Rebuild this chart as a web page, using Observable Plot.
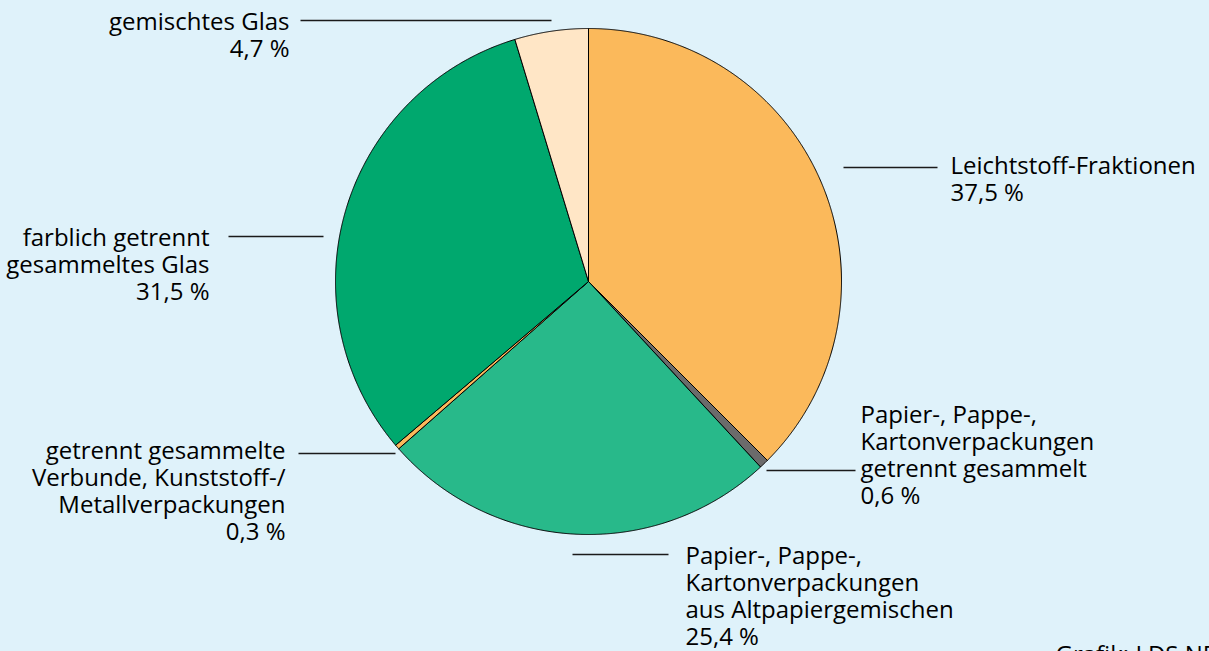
<!DOCTYPE html>
<html><head><meta charset="utf-8">
<script src="https://cdn.jsdelivr.net/npm/d3@7"></script>
<script src="https://cdn.jsdelivr.net/npm/@observablehq/plot@0.6"></script>
<style>
html,body{margin:0;padding:0;background:#dff2fa;overflow:hidden;width:1209px;height:651px}
#chart svg{display:block}
</style>
</head><body><div id="chart"></div>
<script>
// ---- data ----
const categories = [
  "Leichtstoff-Fraktionen",
  "Papier-, Pappe-, Kartonverpackungen getrennt gesammelt",
  "Papier-, Pappe-, Kartonverpackungen aus Altpapiergemischen",
  "getrennt gesammelte Verbunde, Kunststoff-/Metallverpackungen",
  "farblich getrennt gesammeltes Glas",
  "gemischtes Glas"
];
const values = [37.5, 0.6, 25.4, 0.3, 31.5, 4.7];
const labelLines = [
  ["Leichtstoff-Fraktionen", "37,5 %"],
  ["Papier-, Pappe-,", "Kartonverpackungen", "getrennt gesammelt", "0,6 %"],
  ["Papier-, Pappe-,", "Kartonverpackungen", "aus Altpapiergemischen", "25,4 %"],
  ["getrennt gesammelte", "Verbunde, Kunststoff-/", "Metallverpackungen", "0,3 %"],
  ["farblich getrennt", "gesammeltes Glas", "31,5 %"],
  ["gemischtes Glas", "4,7 %"]
];
const colors = ["#fbb95b", "#6b6b6b", "#28b98a", "#fbb95b", "#00a86e", "#ffe6c6"];
const source = "Grafik: LDS NRW";

// ---- layout (pixels) ----
const W = 1209, H = 651, CX = 588, CY = 281, R = 253;
const FS = 24, LH = 27;
const ux = px => (px - CX) / R, uy = py => (CY - py) / R;
// label anchor: text x, first baseline, anchor, leader line x1,x2,y
const layout = [
  {tx: 950, by: 174, anchor: "start", lx1: 843, lx2: 937, ly: 167},
  {tx: 860, by: 423, anchor: "start", lx1: 766, lx2: 855, ly: 470},
  {tx: 685, by: 564, anchor: "start", lx1: 572, lx2: 668, ly: 554},
  {tx: 285, by: 459, anchor: "end",   lx1: 298, lx2: 395, ly: 453},
  {tx: 209, by: 246, anchor: "end",   lx1: 228, lx2: 323, ly: 236},
  {tx: 289, by: 30,  anchor: "end",   lx1: 300, lx2: 551, ly: 20}
];

// ---- slices from values ----
let cum = 0;
const total = d3.sum(values);
const slices = values.map((v, i) => {
  const a0 = cum / total * 2 * Math.PI; cum += v; const a1 = cum / total * 2 * Math.PI;
  const n = Math.max(2, Math.ceil((a1 - a0) / 0.004));
  const pts = [{x: 0, y: 0}];
  for (let k = 0; k <= n; k++) { const a = a0 + (a1 - a0) * k / n; pts.push({x: Math.sin(a), y: Math.cos(a)}); }
  pts.push({x: 0, y: 0});
  return pts;
});

const labels = labelLines.map((lines, i) => ({
  x: ux(layout[i].tx),
  y: uy(layout[i].by),
  text: lines.join("\n"),
  anchor: layout[i].anchor
}));
const links = layout.map(l => ({x1: ux(l.lx1), x2: ux(l.lx2), y: uy(l.ly)}));

const textOpts = {x: "x", y: "y", text: "text", lineAnchor: "top", dy: -0.71 * FS - 3, lineHeight: LH / FS, fontSize: FS, fill: "#000"};

const plot = Plot.plot({
  width: W, height: H, margin: 0,
  style: {background: "#dff2fa", fontFamily: "'Open Sans', sans-serif", overflow: "visible"},
  x: {domain: [ux(0), ux(W)], range: [0, W], axis: null},
  y: {domain: [uy(H), uy(0)], range: [H, 0], axis: null},
  marks: [
    ...slices.map((pts, i) => Plot.line(pts, {x: "x", y: "y", fill: colors[i], stroke: "#000", strokeWidth: 1, strokeLinejoin: "round", curve: "linear"})),
    Plot.link(links, {x1: "x1", x2: "x2", y1: "y", y2: "y", stroke: "#1a1a1a", strokeWidth: 1.4}),
    Plot.text(labels.filter(d => d.anchor === "start"), {...textOpts, textAnchor: "start"}),
    Plot.text(labels.filter(d => d.anchor === "end"), {...textOpts, textAnchor: "end"}),
    Plot.text([source], {x: ux(1055), y: uy(662), text: d => d, textAnchor: "start", lineAnchor: "bottom", fontSize: FS, fill: "#000"})
  ]
});
document.getElementById("chart").appendChild(plot);
</script>
</body></html>
